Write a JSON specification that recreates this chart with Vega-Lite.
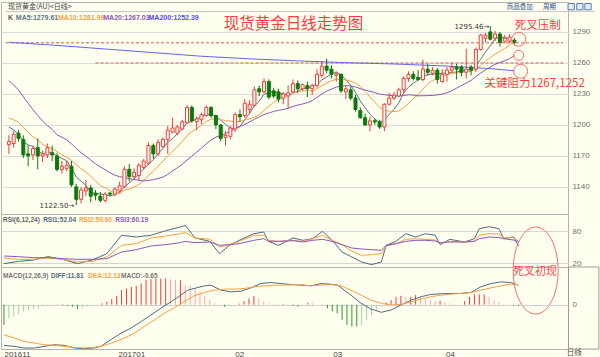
{
"$schema": "https://vega.github.io/schema/vega-lite/v6.json",
"background": "#fffff0",
"padding": 0,
"bounds": "flush",
"spacing": 0,
"config": {"view": {"stroke": "#b4b4b4", "strokeWidth": 1}},
"datasets": {
"k": [
{"i":0,"o":1181,"h":1190,"l":1172,"c":1184,"MA5":1198,"MA10":1206.5,"MA20":1242.8},
{"i":1,"o":1182,"h":1194,"l":1178,"c":1191,"MA5":1195.2,"MA10":1205.1,"MA20":1238.6},
{"i":2,"o":1192,"h":1195,"l":1184,"c":1187,"MA5":1191,"MA10":1202.5,"MA20":1233.8},
{"i":3,"o":1186,"h":1190,"l":1168,"c":1171,"MA5":1184.2,"MA10":1197.6,"MA20":1227.3},
{"i":4,"o":1172,"h":1180,"l":1160,"c":1170,"MA5":1180.6,"MA10":1192.8,"MA20":1220.9},
{"i":5,"o":1171,"h":1180,"l":1166,"c":1177,"MA5":1179.2,"MA10":1188.6,"MA20":1214.8},
{"i":6,"o":1178,"h":1187,"l":1157,"c":1170,"MA5":1175,"MA10":1185.1,"MA20":1209.1},
{"i":7,"o":1170,"h":1175,"l":1164,"c":1172,"MA5":1172,"MA10":1181.5,"MA20":1203.8},
{"i":8,"o":1171,"h":1182,"l":1168,"c":1178,"MA5":1173.4,"MA10":1178.8,"MA20":1199.4},
{"i":9,"o":1173,"h":1180,"l":1165,"c":1171,"MA5":1173.6,"MA10":1177.1,"MA20":1195.6},
{"i":10,"o":1170,"h":1173,"l":1155,"c":1157,"MA5":1169.6,"MA10":1174.4,"MA20":1190.5},
{"i":11,"o":1157,"h":1165,"l":1153,"c":1160,"MA5":1167.6,"MA10":1171.3,"MA20":1188.2},
{"i":12,"o":1158,"h":1165,"l":1155,"c":1161,"MA5":1165.4,"MA10":1168.7,"MA20":1185.6},
{"i":13,"o":1160,"h":1165,"l":1140,"c":1142,"MA5":1158.2,"MA10":1165.8,"MA20":1181.7},
{"i":14,"o":1140,"h":1143,"l":1122.5,"c":1128,"MA5":1149.6,"MA10":1161.6,"MA20":1177.2},
{"i":15,"o":1128,"h":1140,"l":1124,"c":1137,"MA5":1145.6,"MA10":1157.6,"MA20":1173.1},
{"i":16,"o":1136,"h":1147,"l":1131,"c":1139,"MA5":1141.4,"MA10":1154.5,"MA20":1169.8},
{"i":17,"o":1139,"h":1142,"l":1125,"c":1131,"MA5":1135.4,"MA10":1150.4,"MA20":1166},
{"i":18,"o":1134,"h":1137,"l":1127,"c":1132,"MA5":1133.4,"MA10":1145.8,"MA20":1162.3},
{"i":19,"o":1131,"h":1135,"l":1125,"c":1127,"MA5":1133.2,"MA10":1141.4,"MA20":1159.3},
{"i":20,"o":1127,"h":1135,"l":1125,"c":1133,"MA5":1132.4,"MA10":1139,"MA20":1156.7},
{"i":21,"o":1134,"h":1135,"l":1131,"c":1133,"MA5":1131.2,"MA10":1136.3,"MA20":1153.8},
{"i":22,"o":1133,"h":1140,"l":1131,"c":1138,"MA5":1132.6,"MA10":1134,"MA20":1151.4},
{"i":23,"o":1136,"h":1145,"l":1134,"c":1141,"MA5":1134.4,"MA10":1133.9,"MA20":1149.9},
{"i":24,"o":1140,"h":1160,"l":1139,"c":1157,"MA5":1140.4,"MA10":1136.8,"MA20":1149.2},
{"i":25,"o":1157,"h":1162,"l":1145,"c":1150,"MA5":1143.8,"MA10":1138.1,"MA20":1147.9},
{"i":26,"o":1150,"h":1158,"l":1147,"c":1154,"MA5":1148,"MA10":1139.6,"MA20":1147.1},
{"i":27,"o":1151,"h":1163,"l":1146,"c":1161,"MA5":1152.6,"MA10":1142.6,"MA20":1146.5},
{"i":28,"o":1159,"h":1167,"l":1157,"c":1165,"MA5":1157.4,"MA10":1145.9,"MA20":1145.9},
{"i":29,"o":1163,"h":1183,"l":1161,"c":1180,"MA5":1162,"MA10":1151.2,"MA20":1146.3},
{"i":30,"o":1180,"h":1182,"l":1167,"c":1172,"MA5":1166.4,"MA10":1155.1,"MA20":1147.1},
{"i":31,"o":1172,"h":1186,"l":1170,"c":1183,"MA5":1172.2,"MA10":1160.1,"MA20":1148.2},
{"i":32,"o":1179,"h":1188,"l":1178,"c":1186,"MA5":1177.2,"MA10":1164.9,"MA20":1149.5},
{"i":33,"o":1186,"h":1199,"l":1172,"c":1195,"MA5":1183.2,"MA10":1170.3,"MA20":1152.1},
{"i":34,"o":1193,"h":1207,"l":1192,"c":1197,"MA5":1186.6,"MA10":1174.3,"MA20":1155.6},
{"i":35,"o":1192,"h":1200,"l":1190,"c":1198,"MA5":1191.8,"MA10":1179.1,"MA20":1158.6},
{"i":36,"o":1196,"h":1205,"l":1195,"c":1203,"MA5":1195.8,"MA10":1184,"MA20":1161.8},
{"i":37,"o":1202,"h":1219,"l":1201,"c":1217,"MA5":1202,"MA10":1189.6,"MA20":1166.1},
{"i":38,"o":1217,"h":1219,"l":1202,"c":1204,"MA5":1203.8,"MA10":1193.5,"MA20":1169.7},
{"i":39,"o":1203,"h":1208,"l":1195,"c":1206,"MA5":1205.6,"MA10":1196.1,"MA20":1173.7},
{"i":40,"o":1205,"h":1212,"l":1201,"c":1210,"MA5":1208,"MA10":1199.9,"MA20":1177.5},
{"i":41,"o":1209,"h":1219,"l":1208,"c":1217,"MA5":1210.8,"MA10":1203.3,"MA20":1181.7},
{"i":42,"o":1217,"h":1218,"l":1207,"c":1209,"MA5":1209.2,"MA10":1205.6,"MA20":1185.3},
{"i":43,"o":1209,"h":1210,"l":1196,"c":1200,"MA5":1208.4,"MA10":1206.1,"MA20":1188.2},
{"i":44,"o":1200,"h":1201,"l":1184,"c":1187,"MA5":1204.6,"MA10":1205.1,"MA20":1189.7},
{"i":45,"o":1188,"h":1194,"l":1180,"c":1190,"MA5":1200.6,"MA10":1204.3,"MA20":1191.7},
{"i":46,"o":1189,"h":1199,"l":1186,"c":1197,"MA5":1196.6,"MA10":1203.7,"MA20":1193.9},
{"i":47,"o":1196,"h":1212,"l":1193,"c":1210,"MA5":1196.8,"MA10":1203,"MA20":1196.3},
{"i":48,"o":1210,"h":1215,"l":1203,"c":1208,"MA5":1198.4,"MA10":1203.4,"MA20":1198.5},
{"i":49,"o":1209,"h":1225,"l":1207,"c":1221,"MA5":1205.2,"MA10":1204.9,"MA20":1200.5},
{"i":50,"o":1215,"h":1224,"l":1211,"c":1220,"MA5":1211.2,"MA10":1205.9,"MA20":1202.9},
{"i":51,"o":1219,"h":1237,"l":1218,"c":1234,"MA5":1218.6,"MA10":1207.6,"MA20":1205.5},
{"i":52,"o":1235,"h":1238,"l":1228,"c":1232,"MA5":1223,"MA10":1209.9,"MA20":1207.8},
{"i":53,"o":1232,"h":1245,"l":1231,"c":1242,"MA5":1229.8,"MA10":1214.1,"MA20":1210.1},
{"i":54,"o":1242,"h":1244,"l":1225,"c":1227,"MA5":1231,"MA10":1218.1,"MA20":1211.6},
{"i":55,"o":1233,"h":1236,"l":1226,"c":1228,"MA5":1232.6,"MA10":1221.9,"MA20":1213.1},
{"i":56,"o":1232,"h":1235,"l":1222,"c":1225,"MA5":1230.8,"MA10":1224.7,"MA20":1214.2},
{"i":57,"o":1226,"h":1232,"l":1220,"c":1230,"MA5":1230.4,"MA10":1226.7,"MA20":1214.9},
{"i":58,"o":1228,"h":1238,"l":1216,"c":1231,"MA5":1228.2,"MA10":1229,"MA20":1216.2},
{"i":59,"o":1232,"h":1244,"l":1231,"c":1240,"MA5":1230.8,"MA10":1230.9,"MA20":1217.9},
{"i":60,"o":1240,"h":1243,"l":1231,"c":1235,"MA5":1232.2,"MA10":1232.4,"MA20":1219.2},
{"i":61,"o":1235,"h":1240,"l":1233,"c":1239,"MA5":1235,"MA10":1232.9,"MA20":1220.3},
{"i":62,"o":1238,"h":1242,"l":1227,"c":1235,"MA5":1236,"MA10":1233.2,"MA20":1221.6},
{"i":63,"o":1235,"h":1240,"l":1229,"c":1238,"MA5":1237.4,"MA10":1232.8,"MA20":1223.5},
{"i":64,"o":1238,"h":1254,"l":1236,"c":1249,"MA5":1239.2,"MA10":1235,"MA20":1226.6},
{"i":65,"o":1248,"h":1262,"l":1246,"c":1257,"MA5":1243.6,"MA10":1237.9,"MA20":1229.9},
{"i":66,"o":1257,"h":1264,"l":1250,"c":1253,"MA5":1246.4,"MA10":1240.7,"MA20":1232.7},
{"i":67,"o":1254,"h":1258,"l":1245,"c":1249,"MA5":1249.2,"MA10":1242.6,"MA20":1234.7},
{"i":68,"o":1248,"h":1251,"l":1242,"c":1249.5,"MA5":1251.4,"MA10":1244.4,"MA20":1236.7},
{"i":69,"o":1249,"h":1250,"l":1231,"c":1233,"MA5":1248.2,"MA10":1243.7,"MA20":1237.3},
{"i":70,"o":1232,"h":1238,"l":1225,"c":1235,"MA5":1243.8,"MA10":1243.7,"MA20":1238.1},
{"i":71,"o":1234,"h":1237,"l":1224,"c":1226,"MA5":1238.4,"MA10":1242.4,"MA20":1237.7},
{"i":72,"o":1226,"h":1229,"l":1213,"c":1215,"MA5":1231.6,"MA10":1240.4,"MA20":1236.8},
{"i":73,"o":1214,"h":1217,"l":1206,"c":1207,"MA5":1223.2,"MA10":1237.3,"MA20":1235.1},
{"i":74,"o":1207,"h":1211,"l":1199,"c":1200,"MA5":1216.6,"MA10":1232.4,"MA20":1233.7},
{"i":75,"o":1200,"h":1208,"l":1194,"c":1204,"MA5":1210.4,"MA10":1227.1,"MA20":1232.5},
{"i":76,"o":1204,"h":1206,"l":1200,"c":1203,"MA5":1205.8,"MA10":1222.1,"MA20":1231.4},
{"i":77,"o":1203,"h":1205,"l":1196,"c":1198,"MA5":1202.4,"MA10":1217,"MA20":1229.8},
{"i":78,"o":1198,"h":1221,"l":1194,"c":1220,"MA5":1205,"MA10":1214.1,"MA20":1229.3},
{"i":79,"o":1220,"h":1231,"l":1219,"c":1226,"MA5":1210.2,"MA10":1213.4,"MA20":1228.6},
{"i":80,"o":1226,"h":1232,"l":1224,"c":1229,"MA5":1215.2,"MA10":1212.8,"MA20":1228.3},
{"i":81,"o":1228,"h":1236,"l":1227,"c":1234,"MA5":1221.4,"MA10":1213.6,"MA20":1228},
{"i":82,"o":1234,"h":1247,"l":1231,"c":1245,"MA5":1230.8,"MA10":1216.6,"MA20":1228.5},
{"i":83,"o":1245,"h":1252,"l":1242,"c":1249,"MA5":1236.6,"MA10":1220.8,"MA20":1229.1},
{"i":84,"o":1249,"h":1252,"l":1243,"c":1245,"MA5":1240.4,"MA10":1225.3,"MA20":1228.9},
{"i":85,"o":1246,"h":1253,"l":1243,"c":1244,"MA5":1243.4,"MA10":1229.3,"MA20":1228.2},
{"i":86,"o":1244,"h":1263,"l":1242,"c":1254,"MA5":1247.4,"MA10":1234.4,"MA20":1228.3},
{"i":87,"o":1254,"h":1259,"l":1248,"c":1251,"MA5":1248.6,"MA10":1239.7,"MA20":1228.4},
{"i":88,"o":1250,"h":1256,"l":1248,"c":1253,"MA5":1249.4,"MA10":1243,"MA20":1228.6},
{"i":89,"o":1253,"h":1255,"l":1240,"c":1244,"MA5":1249.2,"MA10":1244.8,"MA20":1229.1},
{"i":90,"o":1242,"h":1254,"l":1241,"c":1249,"MA5":1250.2,"MA10":1246.8,"MA20":1229.8},
{"i":91,"o":1249,"h":1256,"l":1242,"c":1253,"MA5":1250,"MA10":1248.7,"MA20":1231.2},
{"i":92,"o":1253,"h":1260,"l":1251,"c":1256,"MA5":1251,"MA10":1249.8,"MA20":1233.2},
{"i":93,"o":1256,"h":1259,"l":1244,"c":1254,"MA5":1251.2,"MA10":1250.3,"MA20":1235.6},
{"i":94,"o":1256,"h":1258,"l":1247,"c":1251,"MA5":1252.6,"MA10":1250.9,"MA20":1238.1},
{"i":95,"o":1251,"h":1274,"l":1245,"c":1254,"MA5":1253.6,"MA10":1251.9,"MA20":1240.6},
{"i":96,"o":1256,"h":1258,"l":1248,"c":1253,"MA5":1253.6,"MA10":1251.8,"MA20":1243.1},
{"i":97,"o":1254,"h":1275,"l":1251,"c":1273,"MA5":1257,"MA10":1254,"MA20":1246.9},
{"i":98,"o":1273,"h":1288,"l":1272,"c":1287,"MA5":1263.6,"MA10":1257.4,"MA20":1250.2},
{"i":99,"o":1284,"h":1289,"l":1280,"c":1287,"MA5":1270.8,"MA10":1261.7,"MA20":1253.3},
{"i":100,"o":1290,"h":1295.46,"l":1282,"c":1283,"MA5":1276.6,"MA10":1265.1,"MA20":1256},
{"i":101,"o":1284,"h":1291,"l":1281,"c":1288,"MA5":1283.6,"MA10":1268.6,"MA20":1258.7},
{"i":102,"o":1288,"h":1290,"l":1276,"c":1280,"MA5":1285,"MA10":1271,"MA20":1260.4},
{"i":103,"o":1281,"h":1287,"l":1279,"c":1284,"MA5":1284.4,"MA10":1274,"MA20":1262.2},
{"i":104,"o":1281,"h":1288,"l":1279,"c":1285,"MA5":1284,"MA10":1277.4,"MA20":1264.2},
{"i":105,"o":1282,"h":1284,"l":1277,"c":1280,"MA5":1279.61,"MA10":1281.99,"MA20":1267.03}
],
"ma200": [
{"i":0,"v":1280},{"i":10,"v":1277},{"i":20,"v":1273.5},{"i":30,"v":1270},{"i":40,"v":1266.5},{"i":50,"v":1264},{"i":60,"v":1262},{"i":70,"v":1260.3},{"i":80,"v":1259},{"i":90,"v":1257.2},{"i":100,"v":1254.5},{"i":105,"v":1252.39}
],
"rsi": [
{"i":0,"RSI1":18.8,"RSI2":29.4,"RSI3":33.1},
{"i":3,"RSI1":23,"RSI2":26.9,"RSI3":31.9},
{"i":6,"RSI1":25.6,"RSI2":26.9,"RSI3":30},
{"i":9,"RSI1":31.9,"RSI2":29.4,"RSI3":30},
{"i":12,"RSI1":26.9,"RSI2":26.9,"RSI3":28.1},
{"i":15,"RSI1":18.8,"RSI2":21.9,"RSI3":26.9},
{"i":18,"RSI1":25.6,"RSI2":23.1,"RSI3":26.9},
{"i":21,"RSI1":37.5,"RSI2":31.3,"RSI3":28.1},
{"i":24,"RSI1":71.9,"RSI2":53.1,"RSI3":40.6},
{"i":27,"RSI1":68.8,"RSI2":56.3,"RSI3":45},
{"i":30,"RSI1":71.9,"RSI2":66.9,"RSI3":51.9},
{"i":33,"RSI1":80.6,"RSI2":70.6,"RSI3":54.4},
{"i":36,"RSI1":87.5,"RSI2":75,"RSI3":58.1},
{"i":37,"RSI1":90.6,"RSI2":76.9,"RSI3":60.6},
{"i":39,"RSI1":66.9,"RSI2":66.9,"RSI3":58.1},
{"i":42,"RSI1":60.6,"RSI2":64.4,"RSI3":59.4},
{"i":44,"RSI1":37.5,"RSI2":50,"RSI3":53.1},
{"i":46,"RSI1":53.1,"RSI2":54.4,"RSI3":54.4},
{"i":48,"RSI1":62.5,"RSI2":60.6,"RSI3":56.3},
{"i":51,"RSI1":75,"RSI2":71.9,"RSI3":62.5},
{"i":53,"RSI1":78.1,"RSI2":71.9,"RSI3":65.6},
{"i":54,"RSI1":60.6,"RSI2":62.5,"RSI3":60.6},
{"i":56,"RSI1":53.1,"RSI2":60.6,"RSI3":60.6},
{"i":59,"RSI1":66.9,"RSI2":62.5,"RSI3":61.9},
{"i":61,"RSI1":62.5,"RSI2":60.6,"RSI3":59.4},
{"i":63,"RSI1":65.6,"RSI2":65.6,"RSI3":62.5},
{"i":65,"RSI1":79.4,"RSI2":71.9,"RSI3":64.4},
{"i":67,"RSI1":62.5,"RSI2":62.5,"RSI3":60.6},
{"i":69,"RSI1":40.6,"RSI2":54.4,"RSI3":54.4},
{"i":71,"RSI1":31.3,"RSI2":41.9,"RSI3":48.1},
{"i":73,"RSI1":21.9,"RSI2":34.4,"RSI3":46.3},
{"i":75,"RSI1":16.9,"RSI2":35.6,"RSI3":45},
{"i":77,"RSI1":21.9,"RSI2":37.5,"RSI3":43.8},
{"i":78,"RSI1":53.1,"RSI2":51.9,"RSI3":53.1},
{"i":80,"RSI1":60.6,"RSI2":56.3,"RSI3":56.3},
{"i":82,"RSI1":75,"RSI2":64.4,"RSI3":60.6},
{"i":84,"RSI1":68.8,"RSI2":65.6,"RSI3":62.5},
{"i":86,"RSI1":75,"RSI2":64.4,"RSI3":62.5},
{"i":88,"RSI1":71.9,"RSI2":63.1,"RSI3":61.3},
{"i":89,"RSI1":54.4,"RSI2":56.9,"RSI3":58.1},
{"i":91,"RSI1":64.4,"RSI2":60.6,"RSI3":59.4},
{"i":94,"RSI1":59.4,"RSI2":59.4,"RSI3":59.4},
{"i":96,"RSI1":65.6,"RSI2":60.6,"RSI3":60.6},
{"i":97,"RSI1":84.4,"RSI2":71.9,"RSI3":65.6},
{"i":99,"RSI1":88.1,"RSI2":75,"RSI3":68.8},
{"i":101,"RSI1":84.4,"RSI2":74.4,"RSI3":67.5},
{"i":102,"RSI1":65.6,"RSI2":66.9,"RSI3":65.6},
{"i":104,"RSI1":68.8,"RSI2":68.8,"RSI3":63.1},
{"i":105,"RSI1":52.04,"RSI2":59.9,"RSI3":60.19}
],
"macd": [
{"i":0,"m":-12.2},{"i":1,"m":-8.2},{"i":2,"m":-7.2},{"i":3,"m":-5.8},{"i":4,"m":-4.2},{"i":5,"m":-3.2},{"i":6,"m":-2.6},{"i":7,"m":-2.2},{"i":8,"m":-1},{"i":9,"m":-0.6},
{"i":10,"m":-0.2},{"i":11,"m":0.2},{"i":12,"m":0.4},{"i":13,"m":-0.6},{"i":14,"m":-1.2},{"i":15,"m":-2.6},{"i":16,"m":-1.8},{"i":17,"m":-1},{"i":18,"m":-0.6},{"i":19,"m":-0.2},
{"i":20,"m":0.8},{"i":21,"m":1.8},{"i":22,"m":3.4},{"i":23,"m":5.4},{"i":24,"m":8.8},{"i":25,"m":9.8},{"i":26,"m":10.8},{"i":27,"m":11.4},{"i":28,"m":12.8},{"i":29,"m":14.8},
{"i":30,"m":15.4},{"i":31,"m":15.8},{"i":32,"m":15.8},{"i":33,"m":15.8},{"i":34,"m":15.4},{"i":35,"m":14.8},{"i":36,"m":14.8},{"i":37,"m":11.8},{"i":38,"m":11.4},{"i":39,"m":9.8},
{"i":40,"m":7.8},{"i":41,"m":5.4},{"i":42,"m":2.8},{"i":43,"m":0.8},{"i":44,"m":-0.6},{"i":45,"m":-1.2},{"i":46,"m":-0.6},{"i":47,"m":0.1},{"i":48,"m":0.6},{"i":49,"m":2.2},
{"i":50,"m":3.8},{"i":51,"m":5.4},{"i":52,"m":3.8},{"i":53,"m":1.8},{"i":54,"m":0.8},{"i":55,"m":0.2},{"i":56,"m":0.2},{"i":57,"m":0.4},{"i":58,"m":0.2},{"i":59,"m":-0.8},
{"i":60,"m":-1.2},{"i":61,"m":0.1},{"i":62,"m":1.2},{"i":63,"m":0.8},{"i":64,"m":0.1},{"i":65,"m":-0.2},{"i":66,"m":-2.2},{"i":67,"m":-4.2},{"i":68,"m":-5.2},{"i":69,"m":-9.2},
{"i":70,"m":-12.2},{"i":71,"m":-13.2},{"i":72,"m":-13.2},{"i":73,"m":-12.6},{"i":74,"m":-9.2},{"i":75,"m":-6.2},{"i":76,"m":-3.2},{"i":77,"m":-1.2},{"i":78,"m":1.4},{"i":79,"m":2.8},
{"i":80,"m":4.8},{"i":81,"m":5.4},{"i":82,"m":4.8},{"i":83,"m":4.8},{"i":84,"m":5.8},{"i":85,"m":4.8},{"i":86,"m":3.8},{"i":87,"m":2.8},{"i":88,"m":2.4},{"i":89,"m":2.4},
{"i":90,"m":1.4},{"i":91,"m":0.8},{"i":92,"m":0.4},{"i":93,"m":0.1},{"i":94,"m":2.2},{"i":95,"m":4.8},{"i":96,"m":6.2},{"i":97,"m":6.2},{"i":98,"m":6.2},{"i":99,"m":4.8},
{"i":100,"m":2.8},{"i":101,"m":1.4},{"i":102,"m":0.4},{"i":103,"m":-0.2},{"i":104,"m":-0.4},{"i":105,"m":-0.65}
],
"dd": [
{"i":0,"s":"DIFF","v":-24.6},{"i":2.1,"s":"DIFF","v":-25.2},{"i":4.1,"s":"DIFF","v":-26.2},{"i":6.2,"s":"DIFF","v":-26.2},{"i":8.2,"s":"DIFF","v":-25.2},{"i":10.3,"s":"DIFF","v":-24.2},{"i":12.3,"s":"DIFF","v":-24.6},{"i":14.4,"s":"DIFF","v":-26.2},{"i":16.4,"s":"DIFF","v":-26.6},{"i":18.4,"s":"DIFF","v":-26.2},{"i":19.8,"s":"DIFF","v":-25.2},{"i":21.8,"s":"DIFF","v":-21.2},{"i":23.9,"s":"DIFF","v":-17.2},{"i":25.9,"s":"DIFF","v":-14.2},{"i":28,"s":"DIFF","v":-10.2},{"i":30,"s":"DIFF","v":-6.2},{"i":32,"s":"DIFF","v":-2.2},{"i":34.1,"s":"DIFF","v":1.8},{"i":36.1,"s":"DIFF","v":5.8},{"i":37.5,"s":"DIFF","v":8.8},{"i":38.8,"s":"DIFF","v":9.8},{"i":40.9,"s":"DIFF","v":11.4},{"i":42.2,"s":"DIFF","v":11.8},{"i":44.3,"s":"DIFF","v":8.8},{"i":46.3,"s":"DIFF","v":7.8},{"i":48.4,"s":"DIFF","v":8.2},{"i":50.4,"s":"DIFF","v":10.2},{"i":52.4,"s":"DIFF","v":12.8},{"i":54.5,"s":"DIFF","v":13.4},{"i":56.5,"s":"DIFF","v":12.8},{"i":58.6,"s":"DIFF","v":12.2},{"i":60.6,"s":"DIFF","v":11.8},{"i":62.7,"s":"DIFF","v":11.4},{"i":64.7,"s":"DIFF","v":12.8},{"i":66.7,"s":"DIFF","v":12.4},{"i":68.1,"s":"DIFF","v":11.8},{"i":70.8,"s":"DIFF","v":5.8},{"i":72.9,"s":"DIFF","v":0.8},{"i":74.9,"s":"DIFF","v":-2.6},{"i":77,"s":"DIFF","v":-4.6},{"i":79,"s":"DIFF","v":-3.2},{"i":81,"s":"DIFF","v":-0.2},{"i":83.1,"s":"DIFF","v":2.8},{"i":85.1,"s":"DIFF","v":4.8},{"i":87.1,"s":"DIFF","v":6.2},{"i":89.2,"s":"DIFF","v":6.6},{"i":91.2,"s":"DIFF","v":6.8},{"i":93.3,"s":"DIFF","v":6.8},{"i":95.3,"s":"DIFF","v":7.4},{"i":97.3,"s":"DIFF","v":10.8},{"i":99.4,"s":"DIFF","v":12.8},{"i":101.4,"s":"DIFF","v":13.8},{"i":103.4,"s":"DIFF","v":13.4},{"i":105,"s":"DIFF","v":11.81},
{"i":0,"s":"DEA","v":-18.2},{"i":2.1,"s":"DEA","v":-20.2},{"i":4.1,"s":"DEA","v":-22.2},{"i":6.2,"s":"DEA","v":-23.2},{"i":8.2,"s":"DEA","v":-24.2},{"i":10.3,"s":"DEA","v":-24.6},{"i":12.3,"s":"DEA","v":-25.2},{"i":14.4,"s":"DEA","v":-25.8},{"i":16.4,"s":"DEA","v":-26.2},{"i":18.4,"s":"DEA","v":-25.8},{"i":20.5,"s":"DEA","v":-24.6},{"i":22.5,"s":"DEA","v":-22.6},{"i":24.6,"s":"DEA","v":-20.2},{"i":26.6,"s":"DEA","v":-17.2},{"i":28.6,"s":"DEA","v":-13.2},{"i":30.7,"s":"DEA","v":-9.2},{"i":32.7,"s":"DEA","v":-5.2},{"i":34.8,"s":"DEA","v":-1.8},{"i":36.8,"s":"DEA","v":1.8},{"i":38.8,"s":"DEA","v":5.4},{"i":40.9,"s":"DEA","v":7.4},{"i":42.9,"s":"DEA","v":8.8},{"i":45,"s":"DEA","v":9.4},{"i":47,"s":"DEA","v":9.4},{"i":49,"s":"DEA","v":9.8},{"i":51.1,"s":"DEA","v":10.8},{"i":53.1,"s":"DEA","v":11.4},{"i":55.2,"s":"DEA","v":11.8},{"i":57.2,"s":"DEA","v":11.8},{"i":60.3,"s":"DEA","v":12.2},{"i":62.7,"s":"DEA","v":11.4},{"i":64.7,"s":"DEA","v":11.8},{"i":66.7,"s":"DEA","v":12.2},{"i":68.8,"s":"DEA","v":11.4},{"i":70.8,"s":"DEA","v":8.8},{"i":72.9,"s":"DEA","v":5.8},{"i":74.9,"s":"DEA","v":2.8},{"i":77,"s":"DEA","v":0.8},{"i":79,"s":"DEA","v":-0.2},{"i":81,"s":"DEA","v":0.2},{"i":83.1,"s":"DEA","v":1.8},{"i":85.1,"s":"DEA","v":3.4},{"i":87.1,"s":"DEA","v":4.8},{"i":89.2,"s":"DEA","v":5.8},{"i":91.2,"s":"DEA","v":6.4},{"i":93.3,"s":"DEA","v":6.8},{"i":95.3,"s":"DEA","v":7.4},{"i":97.3,"s":"DEA","v":8.8},{"i":99.4,"s":"DEA","v":10.2},{"i":101.4,"s":"DEA","v":11.4},{"i":103.4,"s":"DEA","v":12.4},{"i":105,"s":"DEA","v":12.13}
]
},
"vconcat": [
{
"width": 567, "height": 212,
"layer": [
{"data": {"values": [{"a": -0.6, "b": 115.1, "v": 1279.5}, {"a": 18, "b": 115.1, "v": 1260}]},
 "mark": {"type": "rule", "color": "#d05a5a", "strokeDash": [3, 2], "strokeWidth": 1},
 "encoding": {
  "x": {"field": "a", "type": "quantitative", "scale": {"domain": [-0.6, 115.1], "nice": false, "zero": false}, "axis": null},
  "x2": {"field": "b"},
  "y": {"field": "v", "type": "quantitative", "scale": {"domain": [1113.8, 1319], "nice": false, "zero": false},
        "axis": {"orient": "right", "values": [1140, 1170, 1200, 1230, 1260, 1290], "format": "d", "title": null, "grid": true, "gridColor": "#dcdcdc", "ticks": false, "domain": false, "labelFont": "Liberation Sans", "labelFontSize": 8, "labelColor": "#707070", "labelPadding": 4}}
 }},
{"data": {"values": [{"a": -0.6, "b": 121.8, "v": 1309.8}]},
 "mark": {"type": "rule", "color": "#c8c8c8", "strokeWidth": 1},
 "encoding": {"x": {"field": "a", "type": "quantitative", "axis": null}, "x2": {"field": "b"}, "y": {"field": "v", "type": "quantitative"}}},
{"data": {"name": "k"},
 "transform": [{"fold": ["MA5", "MA10", "MA20"], "as": ["s", "v"]}],
 "mark": {"type": "line", "strokeWidth": 1},
 "encoding": {
  "x": {"field": "i", "type": "quantitative", "axis": null},
  "y": {"field": "v", "type": "quantitative"},
  "color": {"field": "s", "type": "nominal", "legend": null,
    "scale": {"domain": ["K", "MA5", "MA10", "MA20", "MA200", "RSI", "RSI1", "RSI2", "RSI3", "MACD", "DIFF", "DEA", "MV"], "range": ["#555555", "#5b7488", "#f7a040", "#8a58b8", "#4f4fe8", "#666666", "#4f6a80", "#f7a040", "#8a58b8", "#777777", "#4f6a80", "#f7a040", "#777777"]}}
 }},
{"data": {"name": "ma200"},
 "mark": {"type": "line", "strokeWidth": 1, "color": "#6464ec"},
 "encoding": {"x": {"field": "i", "type": "quantitative", "axis": null}, "y": {"field": "v", "type": "quantitative"}}},
{"data": {"name": "k"},
 "mark": {"type": "rule", "strokeWidth": 1},
 "encoding": {
  "x": {"field": "i", "type": "quantitative", "axis": null},
  "y": {"field": "l", "type": "quantitative"},
  "y2": {"field": "h"},
  "color": {"condition": {"test": "datum.c >= datum.o", "value": "#f03c3c"}, "value": "#0b7a0b"}
 }},
{"data": {"name": "k"},
 "mark": {"type": "bar", "size": 3, "strokeWidth": 1},
 "encoding": {
  "x": {"field": "i", "type": "quantitative", "axis": null},
  "y": {"field": "o", "type": "quantitative"},
  "y2": {"field": "c"},
  "fill": {"condition": {"test": "datum.c >= datum.o", "value": "#fffff0"}, "value": "#0b7a0b"},
  "stroke": {"condition": {"test": "datum.c >= datum.o", "value": "#f03c3c"}, "value": "#0b7a0b"}
 }},
{"data": {"values": [
  {"i": -0.2, "v": 1303.6, "t": "K", "s": "K"},
  {"i": 1.44, "v": 1303.6, "t": "MA5:1279.61", "s": "MA5"},
  {"i": 10.2, "v": 1303.6, "t": "MA10:1281.99", "s": "MA10"},
  {"i": 19.6, "v": 1303.6, "t": "MA20:1267.03", "s": "MA20"},
  {"i": 29, "v": 1303.6, "t": "MA200:1252.39", "s": "MA200"}]},
 "mark": {"type": "text", "align": "left", "baseline": "middle", "font": "Liberation Sans", "fontSize": 7, "fontWeight": "bold"},
 "encoding": {"x": {"field": "i", "type": "quantitative", "axis": null}, "y": {"field": "v", "type": "quantitative"}, "text": {"field": "t"}, "color": {"field": "s", "type": "nominal", "legend": null}}},
{"data": {"values": [{"i": -0.2, "v": 1314.2, "t": "现货黄金(AU)<日线>"}]},
 "mark": {"type": "text", "align": "left", "baseline": "middle", "font": "Noto Sans CJK SC", "fontSize": 7, "color": "#444444"},
 "encoding": {"x": {"field": "i", "type": "quantitative", "axis": null}, "y": {"field": "v", "type": "quantitative"}, "text": {"field": "t"}}},
{"data": {"values": [{"i": 99.8, "v": 1295.1, "t": "1295.46→"}, {"i": 13.6, "v": 1121.3, "t": "1122.50→"}]},
 "mark": {"type": "text", "align": "right", "baseline": "middle", "font": "DejaVu Sans", "fontSize": 7, "color": "#333333"},
 "encoding": {"x": {"field": "i", "type": "quantitative", "axis": null}, "y": {"field": "v", "type": "quantitative"}, "text": {"field": "t"}}},
{"data": {"values": [{"i": 106.1, "v": 1314.2, "t": "商品叠加"}, {"i": 112.3, "v": 1314.2, "t": "周期"}]},
 "mark": {"type": "text", "align": "center", "baseline": "middle", "font": "Noto Sans CJK SC", "fontSize": 6.5, "color": "#2b4f8f"},
 "encoding": {"x": {"field": "i", "type": "quantitative", "axis": null}, "y": {"field": "v", "type": "quantitative"}, "text": {"field": "t"}}},
{"data": {"values": [{"i": 116.8, "v": 1314.5}, {"i": 118.6, "v": 1314.5}, {"i": 120.3, "v": 1314.5}]},
 "mark": {"type": "point", "shape": "square", "size": 40, "filled": true, "fill": "#e4ecf8", "stroke": "#5a7bb0", "strokeWidth": 1, "opacity": 1},
 "encoding": {"x": {"field": "i", "type": "quantitative", "axis": null}, "y": {"field": "v", "type": "quantitative"}}},
{"data": {"values": [{"i": 59.1, "v": 1297.3, "t": "现货黄金日线走势图"}]},
 "mark": {"type": "text", "align": "center", "baseline": "middle", "font": "Noto Sans CJK SC", "fontSize": 15.5, "color": "#ff3c3c"},
 "encoding": {"x": {"field": "i", "type": "quantitative", "axis": null}, "y": {"field": "v", "type": "quantitative"}, "text": {"field": "t"}}},
{"data": {"values": [{"i": 105.1, "v": 1295.8, "t": "死叉压制"}, {"i": 98.8, "v": 1240, "t": "关键阻力1267,1252"}]},
 "mark": {"type": "text", "align": "left", "baseline": "middle", "font": "Noto Sans CJK SC", "fontSize": 11.5, "color": "#ff3c3c"},
 "encoding": {"x": {"field": "i", "type": "quantitative", "axis": null}, "y": {"field": "v", "type": "quantitative"}, "text": {"field": "t"}}},
{"data": {"values": [{"i": 105.9, "v": 1282.9}, {"i": 106.3, "v": 1252}]},
 "mark": {"type": "point", "shape": "circle", "size": 196, "filled": false, "color": "#ff6a6a", "strokeWidth": 1, "opacity": 1},
 "encoding": {"x": {"field": "i", "type": "quantitative", "axis": null}, "y": {"field": "v", "type": "quantitative"}}},
{"data": {"values": [{"i": 105.9, "v": 1267.4}]},
 "mark": {"type": "point", "shape": "circle", "size": 100, "filled": false, "color": "#ff6a6a", "strokeWidth": 1, "opacity": 1},
 "encoding": {"x": {"field": "i", "type": "quantitative", "axis": null}, "y": {"field": "v", "type": "quantitative"}}}
]
},
{
"width": 567, "height": 53,
"layer": [
{"data": {"name": "rsi"},
 "transform": [{"fold": ["RSI1", "RSI2", "RSI3"], "as": ["s", "v"]}],
 "mark": {"type": "line", "strokeWidth": 1},
 "encoding": {
  "x": {"field": "i", "type": "quantitative", "scale": {"domain": [-0.6, 115.1], "nice": false, "zero": false}, "axis": null},
  "y": {"field": "v", "type": "quantitative", "scale": {"domain": [12.5, 111.9], "nice": false, "zero": false},
        "axis": {"orient": "right", "values": [20, 50, 80], "title": null, "grid": true, "gridColor": "#d4d4d4", "ticks": false, "domain": false, "labelFont": "Liberation Sans", "labelFontSize": 8, "labelColor": "#707070", "labelPadding": 4}},
  "color": {"field": "s", "type": "nominal", "legend": null,
    "scale": {"domain": ["K", "MA5", "MA10", "MA20", "MA200", "RSI", "RSI1", "RSI2", "RSI3", "MACD", "DIFF", "DEA", "MV"], "range": ["#555555", "#5b7488", "#f7a040", "#8a58b8", "#4f4fe8", "#666666", "#4f6a80", "#f7a040", "#8a58b8", "#777777", "#4f6a80", "#f7a040", "#777777"]}}
 }},
{"data": {"values": [
  {"i": -0.2, "v": 100, "t": "RSI(6,12,24)", "s": "RSI"},
  {"i": 8.0, "v": 100, "t": "RSI1:52.04", "s": "RSI1"},
  {"i": 15.3, "v": 100, "t": "RSI2:59.90", "s": "RSI2"},
  {"i": 22.7, "v": 100, "t": "RSI3:60.19", "s": "RSI3"}]},
 "mark": {"type": "text", "align": "left", "baseline": "middle", "font": "Liberation Sans", "fontSize": 6.5, "fontWeight": "bold"},
 "encoding": {"x": {"field": "i", "type": "quantitative", "axis": null}, "y": {"field": "v", "type": "quantitative"}, "text": {"field": "t"}, "color": {"field": "s", "type": "nominal", "legend": null}}},
{"data": {"values": [{"i": 108.5, "v": 5.9}]},
 "mark": {"type": "point", "shape": "M0,-1C0.2855,-1,0.517,-0.5523,0.517,0C0.517,0.5523,0.2855,1,0,1C-0.2855,1,-0.517,0.5523,-0.517,0C-0.517,-0.5523,-0.2855,-1,0,-1Z", "size": 7569, "filled": false, "color": "#f07070", "strokeWidth": 1, "opacity": 1},
 "encoding": {"x": {"field": "i", "type": "quantitative", "axis": null}, "y": {"field": "v", "type": "quantitative"}}}
]
},
{
"width": 567, "height": 82,
"layer": [
{"data": {"name": "macd"},
 "transform": [{"window": [{"op": "lag", "field": "m", "as": "pm"}], "sort": [{"field": "i", "order": "ascending"}]}],
 "mark": {"type": "rule", "strokeWidth": 1},
 "encoding": {
  "x": {"field": "i", "type": "quantitative", "scale": {"domain": [-0.6, 115.1], "nice": false, "zero": false},
        "axis": {"values": [0, 26, 48, 68, 91], "labelExpr": "datum.value == 0 ? '201611' : datum.value == 26 ? '201701' : datum.value == 48 ? '02' : datum.value == 68 ? '03' : '04'", "title": null, "ticks": false, "domain": false, "grid": false, "labelFont": "Liberation Sans", "labelFontSize": 8, "labelColor": "#444444", "labelPadding": 1, "labelFlush": 5, "labelOverlap": false}},
  "y": {"field": "m", "type": "quantitative", "scale": {"domain": [-26.8, 22.8], "nice": false, "zero": false},
        "axis": {"orient": "right", "values": [0], "title": null, "grid": true, "gridColor": "#d0d0d0", "ticks": false, "domain": false, "labelFont": "Liberation Sans", "labelFontSize": 8, "labelColor": "#707070", "labelPadding": 4}},
  "y2": {"datum": 0},
  "color": {"condition": [
     {"test": "datum.m >= 0 && abs(datum.m) >= abs(datum.pm || 0)", "value": "#ff3434"},
     {"test": "datum.m >= 0", "value": "#ffa4a4"},
     {"test": "abs(datum.m) >= abs(datum.pm || 0)", "value": "#2e962e"}],
   "value": "#9fd49f"}
 }},
{"data": {"name": "dd"},
 "mark": {"type": "line", "strokeWidth": 1},
 "encoding": {
  "x": {"field": "i", "type": "quantitative"},
  "y": {"field": "v", "type": "quantitative"},
  "color": {"field": "s", "type": "nominal", "legend": null,
    "scale": {"domain": ["K", "MA5", "MA10", "MA20", "MA200", "RSI", "RSI1", "RSI2", "RSI3", "MACD", "DIFF", "DEA", "MV"], "range": ["#555555", "#5b7488", "#f7a040", "#8a58b8", "#4f4fe8", "#666666", "#4f6a80", "#f7a040", "#8a58b8", "#777777", "#4f6a80", "#f7a040", "#777777"]}}
 }},
{"data": {"values": [
  {"i": -0.2, "v": 17.4, "t": "MACD(12,26,9)", "s": "MACD"},
  {"i": 9.6, "v": 17.4, "t": "DIFF:11.81", "s": "DIFF"},
  {"i": 17.2, "v": 17.4, "t": "DEA:12.13", "s": "DEA"},
  {"i": 23.9, "v": 17.4, "t": "MACD:-0.65", "s": "MV"}]},
 "mark": {"type": "text", "align": "left", "baseline": "middle", "font": "Liberation Sans", "fontSize": 6.5, "fontWeight": "bold"},
 "encoding": {"x": {"field": "i", "type": "quantitative"}, "y": {"field": "v", "type": "quantitative"}, "text": {"field": "t"}, "color": {"field": "s", "type": "nominal", "legend": null}}},
{"data": {"values": [{"i": 103.9, "v": 19.8, "t": "死叉初现"}]},
 "mark": {"type": "text", "align": "left", "baseline": "middle", "font": "Noto Sans CJK SC", "fontSize": 11, "color": "#ff4a4a"},
 "encoding": {"x": {"field": "i", "type": "quantitative"}, "y": {"field": "v", "type": "quantitative"}, "text": {"field": "t"}}},
{"data": {"values": [{"i": 116.4, "v": -29.4, "t": "日线"}]},
 "mark": {"type": "text", "align": "center", "baseline": "middle", "font": "Noto Sans CJK SC", "fontSize": 7.5, "color": "#444444"},
 "encoding": {"x": {"field": "i", "type": "quantitative"}, "y": {"field": "v", "type": "quantitative"}, "text": {"field": "t"}}},
{"data": {"values": [{"a": 115.2, "b": 121.4, "v1": 22.8, "v2": -26.8}]},
 "mark": {"type": "rect", "filled": false, "stroke": "#9a9a9a", "strokeWidth": 1},
 "encoding": {"x": {"field": "a", "type": "quantitative"}, "x2": {"field": "b"}, "y": {"field": "v1", "type": "quantitative"}, "y2": {"field": "v2"}}}
]
}
]
}
